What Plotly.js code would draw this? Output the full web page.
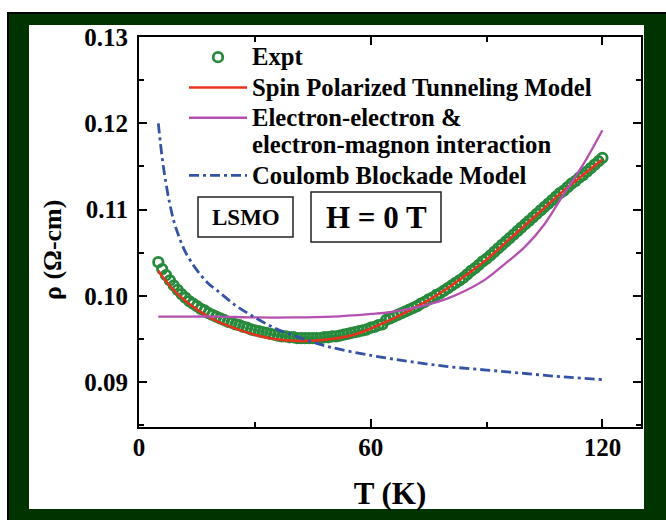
<!DOCTYPE html>
<html>
<head>
<meta charset="utf-8">
<script src="https://cdn.plot.ly/plotly-3.0.1.min.js"></script>
<style>html,body{margin:0;padding:0;background:#fff;}#chart{width:666px;height:520px;}</style>
</head>
<body>
<div id="chart"></div>
<script>
// Experimental data (T in K, rho in Ohm-cm)
var exptT = [5,6,7,8,9,10,11,12,13,14,15,16,17,18,19,20,21,22,23,24,25,26,27,28,29,30,31,32,33,34,35,36,37,38,39,40,41,42,43,44,45,46,47,48,49,50,51,52,53,54,55,56,57,58,59,60,61,62,63,64,65,66,67,68,69,70,71,72,73,74,75,76,77,78,79,80,81,82,83,84,85,86,87,88,89,90,91,92,93,94,95,96,97,98,99,100,101,102,103,104,105,106,107,108,109,110,111,112,113,114,115,116,117,118,119,120];
var exptRho = [0.1039,0.1031,0.1024,0.1018,0.1012,0.1007,0.1002,0.0998,0.0994,0.0991,0.0988,0.0985,0.0983,0.0980,0.0978,0.0976,0.0974,0.0972,0.0970,0.0969,0.0967,0.0966,0.0964,0.0963,0.0961,0.0960,0.0959,0.0958,0.0957,0.0956,0.0955,0.0954,0.0953,0.0953,0.0952,0.0952,0.0951,0.0951,0.0951,0.0951,0.0951,0.0951,0.0951,0.0952,0.0952,0.0953,0.0953,0.0954,0.0955,0.0956,0.0957,0.0958,0.0959,0.0960,0.0961,0.0963,0.0964,0.0966,0.0967,0.0972,0.0974,0.0976,0.0978,0.0980,0.0982,0.0984,0.0986,0.0988,0.0991,0.0993,0.0996,0.0998,0.1001,0.1003,0.1006,0.1009,0.1012,0.1015,0.1018,0.1021,0.1025,0.1029,0.1032,0.1036,0.1040,0.1043,0.1047,0.1051,0.1055,0.1059,0.1063,0.1067,0.1071,0.1075,0.1079,0.1083,0.1087,0.1091,0.1095,0.1099,0.1103,0.1107,0.1111,0.1115,0.1119,0.1122,0.1126,0.1130,0.1133,0.1137,0.1140,0.1144,0.1148,0.1152,0.1156,0.1160];

// Spin polarized tunneling model
var sptT = [5,7,10,15,20,25,30,35,40,45,50,55,60,65,70,75,80,85,90,95,100,105,110,115,120];
var sptRho = [0.1029,0.1017,0.1002,0.0984,0.0971,0.0962,0.0955,0.0950,0.0948,0.0948,0.0950,0.0954,0.0962,0.0972,0.0983,0.0995,0.1009,0.1025,0.1042,0.1062,0.1082,0.1102,0.1122,0.1140,0.1158];

// Electron-electron & electron-magnon interaction
var eemT = [5,10,20,30,40,50,60,65,70,75,80,85,90,95,100,105,110,115,120];
var eemRho = [0.0976,0.0976,0.0976,0.0975,0.0975,0.0976,0.0979,0.0981,0.0985,0.0990,0.0997,0.1007,0.1020,0.1038,0.1057,0.1083,0.1118,0.1152,0.1192];

// Coulomb blockade model
var cbT = [5,6,7,8,9,10,11,12,14,16,18,20,25,30,35,40,46,50,60,70,80,90,100,110,120];
var cbRho = [0.1200,0.1160,0.1130,0.1106,0.1087,0.1073,0.1061,0.1051,0.1036,0.1024,0.1014,0.1007,0.0989,0.0975,0.0963,0.0954,0.0945,0.0940,0.0931,0.0924,0.0918,0.0914,0.0910,0.0906,0.0903];

var names = ["Expt","Spin Polarized Tunneling Model","Electron-electron &<br>electron-magnon interaction","Coulomb Blockade Model"];
var xTicks = [0,60,120];
var yTicks = [0.09,0.10,0.11,0.12,0.13];
var yTickText = ["0.09","0.10","0.11","0.12","0.13"];

var serif = "Liberation Serif, Times New Roman, serif";
function big(s){ return s.split("<br>").map(function(p){ return '<span style="font-size:24.7px">' + p + '</span>'; }).join("<br>"); }

var traces = [
  {x: exptT, y: exptRho, name: big(names[0]), type: "scatter", mode: "markers",
   marker: {symbol: "circle-open", size: 9.5, color: "#288a3c", line: {width: 2.8, color: "#288a3c"}}},
  {x: sptT, y: sptRho, name: big(names[1]), type: "scatter", mode: "lines",
   line: {color: "#e8321e", width: 2.5, shape: "spline"}},
  {x: eemT, y: eemRho, name: big(names[2]), type: "scatter", mode: "lines",
   line: {color: "#b451b0", width: 2.3, shape: "spline"}},
  {x: cbT, y: cbRho, name: big(names[3]), type: "scatter", mode: "lines",
   line: {color: "#3553a6", width: 2.8, shape: "spline", dash: "10px,4px,3px,4px"}}
];

function px(x){ return (x-139)/502; }
function py(y){ return (427-y)/390; }

var layout = {
  width: 666, height: 520,
  margin: {l: 139, r: 25, t: 37, b: 93},
  paper_bgcolor: "#ffffff",
  plot_bgcolor: "rgba(0,0,0,0)",
  showlegend: true,
  font: {family: serif, color: "#000", weight: "bold"},
  xaxis: {
    range: [0, 130], tickvals: xTicks, ticktext: xTicks.map(String),
    ticks: "inside", ticklen: 8, tickwidth: 2, tickcolor: "#000",
    minor: {tickvals: [30, 90], ticks: "inside", ticklen: 5, tickwidth: 2, tickcolor: "#000"},
    showline: true, linecolor: "#000", linewidth: 2, mirror: "ticks",
    showgrid: false, zeroline: false,
    tickfont: {family: serif, size: 25, color: "#000", weight: "bold"},
    ticklabelstandoff: -3,
    title: {text: "T (K)", font: {family: serif, size: 31, color: "#000", weight: "bold"}, standoff: 22}
  },
  yaxis: {
    range: [0.0848, 0.13], tickvals: yTicks, ticktext: yTickText,
    ticks: "inside", ticklen: 8, tickwidth: 2, tickcolor: "#000",
    minor: {tickvals: [0.085,0.095,0.105,0.115,0.125], ticks: "inside", ticklen: 5, tickwidth: 2, tickcolor: "#000"},
    showline: true, linecolor: "#000", linewidth: 2, mirror: "ticks",
    showgrid: false, zeroline: false,
    tickfont: {family: serif, size: 25, color: "#000", weight: "bold"},
    ticklabelstandoff: 4,
    title: {text: "", font: {family: serif, size: 26, color: "#000", weight: "bold"}}
  },
  legend: {
    x: px(184), y: py(37), xanchor: "left", yanchor: "top",
    bgcolor: "rgba(0,0,0,0)", borderwidth: 0,
    font: {family: serif, size: 21, color: "#000", weight: "bold"},
    valign: "top", itemwidth: 58, tracegroupgap: 0
  },
  shapes: [
    {type: "rect", xref: "paper", yref: "paper", x0: px(8), x1: px(720), y0: py(13), y1: py(580),
     fillcolor: "#003300", line: {color: "#000", width: 2}, layer: "below"},
    {type: "rect", xref: "paper", yref: "paper", x0: px(29), x1: px(644), y0: py(25), y1: py(509),
     fillcolor: "#ffffff", line: {width: 0}, layer: "below"},
    {type: "rect", xref: "paper", yref: "paper", x0: px(198), x1: px(293), y0: py(197), y1: py(237),
     fillcolor: "rgba(0,0,0,0)", line: {color: "#222", width: 1.5}},
    {type: "rect", xref: "paper", yref: "paper", x0: px(311), x1: px(441), y0: py(192), y1: py(242),
     fillcolor: "rgba(0,0,0,0)", line: {color: "#222", width: 1.5}}
  ],
  annotations: [
    {xref: "paper", yref: "paper", x: px(245.5), y: py(217), text: "LSMO", showarrow: false,
     xanchor: "center", yanchor: "middle", font: {family: serif, size: 23, color: "#000", weight: "bold"}},
    {xref: "paper", yref: "paper", x: px(376), y: py(217), text: "H = 0 T", showarrow: false,
     xanchor: "center", yanchor: "middle", font: {family: serif, size: 31, color: "#000", weight: "bold"}},
    {xref: "paper", yref: "paper", x: px(52), y: py(250), text: "ρ (Ω-cm)", showarrow: false, textangle: -90,
     xanchor: "center", yanchor: "middle", font: {family: serif, size: 26, color: "#000", weight: "bold"}}
  ]
};

Plotly.newPlot("chart", traces, layout, {displayModeBar: false, staticPlot: true});
</script>
</body>
</html>
